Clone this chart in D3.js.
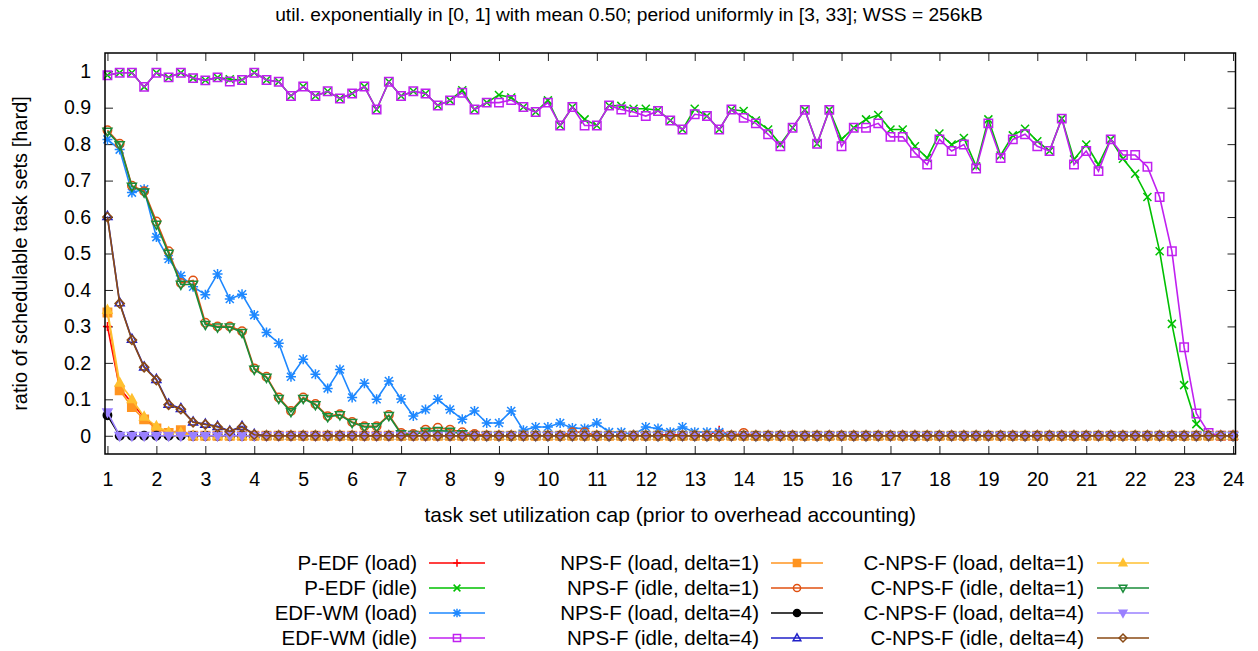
<!DOCTYPE html>
<html>
<head>
<meta charset="utf-8">
<script src="https://cdn.jsdelivr.net/npm/d3@7"></script>
<style>
body { margin: 0; background: #fff; }
text { font-family: "Liberation Sans", Arial, sans-serif; fill: #000; }
</style>
</head>
<body>
<svg width="1258" height="651"></svg>
<script>
// x grid: task set utilization cap
var utilCap = [
  1, 1.25, 1.5, 1.75, 2, 2.25, 2.5, 2.75,
  3, 3.25, 3.5, 3.75, 4, 4.25, 4.5, 4.75,
  5, 5.25, 5.5, 5.75, 6, 6.25, 6.5, 6.75,
  7, 7.25, 7.5, 7.75, 8, 8.25, 8.5, 8.75,
  9, 9.25, 9.5, 9.75, 10, 10.25, 10.5, 10.75,
  11, 11.25, 11.5, 11.75, 12, 12.25, 12.5, 12.75,
  13, 13.25, 13.5, 13.75, 14, 14.25, 14.5, 14.75,
  15, 15.25, 15.5, 15.75, 16, 16.25, 16.5, 16.75,
  17, 17.25, 17.5, 17.75, 18, 18.25, 18.5, 18.75,
  19, 19.25, 19.5, 19.75, 20, 20.25, 20.5, 20.75,
  21, 21.25, 21.5, 21.75, 22, 22.25, 22.5, 22.75,
  23, 23.25, 23.5, 23.75, 24
];

var xTicks = [1,2,3,4,5,6,7,8,9,10,11,12,13,14,15,16,17,18,19,20,21,22,23,24];
var yTicks = [0, 0.1, 0.2, 0.3, 0.4, 0.5, 0.6, 0.7, 0.8, 0.9, 1];

var pEdfLoad = [
  .300, .130, .090, .050, .022, .010, .010, 0,
  0, 0, 0, 0, 0, 0, 0, 0,
  0, 0, 0, 0, 0, 0, 0, 0,
  0, 0, 0, 0, 0, 0, 0, 0,
  0, 0, 0, 0, 0, 0, 0, 0,
  0, 0, 0, 0, 0, 0, .005, 0,
  0, 0, .015, 0, 0, 0, 0, 0,
  0, 0, 0, 0, 0, 0, 0, 0,
  0, 0, 0, 0, 0, 0, 0, 0,
  0, 0, 0, 0, 0, 0, 0, 0,
  0, 0, 0, 0, 0, 0, 0, 0,
  0, 0, 0, 0, 0
];

var pEdfIdle = [
  .989, .996, .996, .957, .996, .983, .996, .981,
  .975, .983, .978, .976, .996, .976, .971, .932,
  .958, .932, .945, .925, .939, .958, .895, .971,
  .932, .945, .939, .906, .920, .948, .895, .914,
  .935, .928, .902, .888, .920, .851, .902, .868,
  .851, .906, .905, .897, .897, .893, .865, .840,
  .897, .877, .840, .895, .891, .865, .840, .800,
  .845, .894, .801, .894, .813, .845, .868, .880,
  .840, .840, .794, .762, .829, .799, .817, .739,
  .868, .769, .824, .842, .808, .781, .870, .758,
  .799, .744, .813, .760, .719, .655, .506, .307,
  .139, .032, 0, 0, 0
];

var edfWmLoad = [
  .813, .785, .667, .676, .545, .485, .439, .409,
  .387, .444, .375, .388, .331, .283, .254, .162,
  .210, .169, .130, .182, .105, .144, .100, .150,
  .101, .054, .072, .100, .072, .045, .068, .035,
  .035, .068, .015, .024, .024, .035, .021, .020,
  .035, .010, .010, .003, .024, .020, .010, .024,
  .010, .010, .010, 0, 0, 0, 0, 0,
  0, 0, 0, 0, 0, 0, 0, 0,
  0, 0, 0, 0, 0, 0, 0, 0,
  0, 0, 0, 0, 0, 0, 0, 0,
  0, 0, 0, 0, 0, 0, 0, 0,
  0, 0, 0, 0, 0
];

var edfWmIdle = [
  .989, .996, .996, .957, .996, .983, .996, .981,
  .975, .983, .972, .976, .996, .976, .971, .932,
  .958, .932, .945, .925, .939, .958, .895, .971,
  .932, .945, .939, .906, .920, .941, .895, .914,
  .914, .921, .902, .888, .914, .851, .902, .851,
  .851, .906, .895, .888, .877, .891, .865, .840,
  .882, .877, .840, .895, .872, .857, .827, .794,
  .845, .894, .801, .894, .794, .845, .845, .857,
  .820, .820, .776, .744, .813, .781, .799, .733,
  .857, .762, .813, .827, .794, .781, .870, .744,
  .781, .726, .813, .770, .770, .738, .655, .506,
  .243, .061, .008, 0, 0
];

var npsfLoadD1 = [
  .338, .125, .079, .045, .020, .008, .015, 0,
  0, 0, 0, 0, 0, 0, 0, 0,
  0, 0, 0, 0, 0, 0, 0, 0,
  0, 0, 0, 0, 0, 0, 0, 0,
  0, 0, 0, 0, 0, 0, 0, 0,
  0, 0, 0, 0, 0, 0, 0, 0,
  0, 0, 0, 0, 0, 0, 0, 0,
  0, 0, 0, 0, 0, 0, 0, 0,
  0, 0, 0, 0, 0, 0, 0, 0,
  0, 0, 0, 0, 0, 0, 0, 0,
  0, 0, 0, 0, 0, 0, 0, 0,
  0, 0, 0, 0, 0
];

var npsfIdleD1 = [
  .838, .801, .686, .671, .588, .506, .419, .426,
  .310, .300, .300, .287, .185, .162, .105, .068,
  .105, .087, .054, .059, .038, .026, .026, .057,
  .008, .005, .017, .022, .017, .010, .005, 0,
  0, 0, 0, 0, 0, 0, .010, .010,
  0, 0, 0, 0, 0, 0, 0, 0,
  0, 0, 0, 0, .008, 0, 0, 0,
  0, 0, 0, 0, 0, 0, 0, 0,
  0, 0, 0, 0, 0, 0, 0, 0,
  0, 0, 0, 0, 0, 0, 0, 0,
  0, 0, 0, 0, 0, 0, 0, 0,
  0, 0, 0, 0, 0
];

var npsfLoadD4 = [
  .056, 0, 0, 0, 0, 0, 0, 0,
  0, 0, 0, 0, 0, 0, 0, 0,
  0, 0, 0, 0, 0, 0, 0, 0,
  0, 0, 0, 0, 0, 0, 0, 0,
  0, 0, 0, 0, 0, 0, 0, 0,
  0, 0, 0, 0, 0, 0, 0, 0,
  0, 0, 0, 0, 0, 0, 0, 0,
  0, 0, 0, 0, 0, 0, 0, 0,
  0, 0, 0, 0, 0, 0, 0, 0,
  0, 0, 0, 0, 0, 0, 0, 0,
  0, 0, 0, 0, 0, 0, 0, 0,
  0, 0, 0, 0, 0
];

var npsfIdleD4 = [
  .602, .365, .265, .189, .155, .087, .075, .038,
  .032, .026, .013, .026, .004, 0, 0, 0,
  0, 0, 0, 0, 0, 0, 0, 0,
  0, 0, 0, 0, 0, 0, 0, 0,
  0, 0, 0, 0, 0, 0, 0, 0,
  0, 0, 0, 0, 0, 0, 0, 0,
  0, 0, 0, 0, 0, 0, 0, 0,
  0, 0, 0, 0, 0, 0, 0, 0,
  0, 0, 0, 0, 0, 0, 0, 0,
  0, 0, 0, 0, 0, 0, 0, 0,
  0, 0, 0, 0, 0, 0, 0, 0,
  0, 0, 0, 0, 0
];

var cnpsfLoadD1 = [
  .345, .145, .100, .052, .026, .010, .008, 0,
  0, 0, 0, 0, 0, 0, 0, 0,
  0, 0, 0, 0, 0, 0, 0, 0,
  0, 0, 0, 0, 0, 0, 0, 0,
  0, 0, 0, 0, 0, 0, 0, 0,
  0, 0, 0, 0, 0, 0, 0, 0,
  0, 0, 0, 0, 0, 0, 0, 0,
  0, 0, 0, 0, 0, 0, 0, 0,
  0, 0, 0, 0, 0, 0, 0, 0,
  0, 0, 0, 0, 0, 0, 0, 0,
  0, 0, 0, 0, 0, 0, 0, 0,
  0, 0, 0, 0, 0
];

var cnpsfIdleD1 = [
  .835, .798, .684, .668, .580, .500, .415, .415,
  .305, .298, .298, .283, .182, .160, .102, .066,
  .102, .085, .052, .057, .036, .024, .024, .055,
  .005, .003, .012, .014, .012, .005, 0, 0,
  0, 0, 0, 0, 0, 0, 0, 0,
  0, 0, 0, 0, 0, 0, 0, 0,
  0, 0, 0, 0, 0, 0, 0, 0,
  0, 0, 0, 0, 0, 0, 0, 0,
  0, 0, 0, 0, 0, 0, 0, 0,
  0, 0, 0, 0, 0, 0, 0, 0,
  0, 0, 0, 0, 0, 0, 0, 0,
  0, 0, 0, 0, 0
];

var cnpsfLoadD4 = [
  .065, 0, 0, 0, 0, 0, 0, 0,
  0, 0, 0, 0, 0, 0, 0, 0,
  0, 0, 0, 0, 0, 0, 0, 0,
  0, 0, 0, 0, 0, 0, 0, 0,
  0, 0, 0, 0, 0, 0, 0, 0,
  0, 0, 0, 0, 0, 0, 0, 0,
  0, 0, 0, 0, 0, 0, 0, 0,
  0, 0, 0, 0, 0, 0, 0, 0,
  0, 0, 0, 0, 0, 0, 0, 0,
  0, 0, 0, 0, 0, 0, 0, 0,
  0, 0, 0, 0, 0, 0, 0, 0,
  0, 0, 0, 0, 0
];

var cnpsfIdleD4 = [
  .600, .363, .263, .188, .153, .085, .073, .037,
  .031, .024, .012, .024, .003, 0, 0, 0,
  0, 0, 0, 0, 0, 0, 0, 0,
  0, 0, 0, 0, 0, 0, 0, 0,
  0, 0, 0, 0, 0, 0, 0, 0,
  0, 0, 0, 0, 0, 0, 0, 0,
  0, 0, 0, 0, 0, 0, 0, 0,
  0, 0, 0, 0, 0, 0, 0, 0,
  0, 0, 0, 0, 0, 0, 0, 0,
  0, 0, 0, 0, 0, 0, 0, 0,
  0, 0, 0, 0, 0, 0, 0, 0,
  0, 0, 0, 0, 0
];

var seriesNames = [
  "P-EDF (load)", "P-EDF (idle)", "EDF-WM (load)", "EDF-WM (idle)",
  "NPS-F (load, delta=1)", "NPS-F (idle, delta=1)", "NPS-F (load, delta=4)", "NPS-F (idle, delta=4)",
  "C-NPS-F (load, delta=1)", "C-NPS-F (idle, delta=1)", "C-NPS-F (load, delta=4)", "C-NPS-F (idle, delta=4)"
];
var seriesValues = [
  pEdfLoad, pEdfIdle, edfWmLoad, edfWmIdle,
  npsfLoadD1, npsfIdleD1, npsfLoadD4, npsfIdleD4,
  cnpsfLoadD1, cnpsfIdleD1, cnpsfLoadD4, cnpsfIdleD4
];

// gnuplot-ish styles
var colors = ["#ff0000", "#00c000", "#1e88ff", "#c020f0",
              "#ff9420", "#e05010", "#000000", "#2020c8",
              "#ffc030", "#1a8c3a", "#9a80ff", "#8a4a14"];
var markers = ["plus", "cross", "star", "square",
               "square", "circle", "circle", "triUp",
               "triUp", "triDown", "triDown", "diamond"];
var filled = [false, false, false, false, true, false, true, false, true, false, true, false];

var svg = d3.select("svg");
var plotLeft = 105, plotRight = 1235.5, plotTop = 53, plotBottom = 454;

var x = d3.scaleLinear().domain([0.95, 24.05]).range([plotLeft, plotRight]);
var y = d3.scaleLinear().domain([-0.05, 1.05]).range([plotBottom, plotTop]);

function markerPath(type, s) {
  switch (type) {
    case "plus": return "M" + (-s) + ",0H" + s + "M0," + (-s) + "V" + s;
    case "cross": return "M" + (-s) + "," + (-s) + "L" + s + "," + s + "M" + (-s) + "," + s + "L" + s + "," + (-s);
    case "star":
      var k = s * 0.8;
      return "M" + (-s) + ",0H" + s + "M0," + (-s) + "V" + s +
        "M" + (-k) + "," + (-k) + "L" + k + "," + k + "M" + (-k) + "," + k + "L" + k + "," + (-k);
    case "square": return "M" + (-s) + "," + (-s) + "H" + s + "V" + s + "H" + (-s) + "Z";
    case "circle": return "M" + s + ",0A" + s + "," + s + " 0 1,1 " + (-s) + ",0A" + s + "," + s + " 0 1,1 " + s + ",0Z";
    case "triUp": return "M0," + (-s * 1.1) + "L" + s + "," + (s * 0.7) + "L" + (-s) + "," + (s * 0.7) + "Z";
    case "triDown": return "M0," + (s * 1.1) + "L" + s + "," + (-s * 0.7) + "L" + (-s) + "," + (-s * 0.7) + "Z";
    case "diamond": return "M0," + (-s) + "L" + s + ",0L0," + s + "L" + (-s) + ",0Z";
  }
}
var markerSize = { plus: 4.5, cross: 4, star: 5, square: 4.2, circle: 4.2, triUp: 4.5, triDown: 4.5, diamond: 4.6 };

// axes: ticks inside, mirrored on top and right
svg.append("g")
  .attr("transform", "translate(0," + plotBottom + ")")
  .call(d3.axisBottom(x).tickValues(xTicks).tickSizeInner(-8).tickSizeOuter(0).tickPadding(18))
  .call(function (g) { g.select(".domain").remove(); });
svg.append("g")
  .attr("transform", "translate(0," + plotTop + ")")
  .call(d3.axisTop(x).tickValues(xTicks).tickSizeInner(-8).tickSizeOuter(0).tickFormat(""))
  .call(function (g) { g.select(".domain").remove(); });
svg.append("g")
  .attr("transform", "translate(" + plotLeft + ",0)")
  .call(d3.axisLeft(y).tickValues(yTicks).tickSizeInner(-8).tickSizeOuter(0).tickPadding(14).tickFormat(d3.format("~g")))
  .call(function (g) { g.select(".domain").remove(); });
svg.append("g")
  .attr("transform", "translate(" + plotRight + ",0)")
  .call(d3.axisRight(y).tickValues(yTicks).tickSizeInner(-8).tickSizeOuter(0).tickFormat(""))
  .call(function (g) { g.select(".domain").remove(); });

svg.selectAll(".tick line").attr("stroke", "#222").attr("stroke-width", 1);
svg.selectAll(".tick text").style("font-size", "19.5px").attr("fill", "#000")
  .style("font-family", "'Liberation Sans', Arial, sans-serif");

// series, drawn in order like gnuplot
var line = d3.line()
  .x(function (d) { return x(d[0]); })
  .y(function (d) { return y(d[1]); });

var plot = svg.append("g");
seriesValues.forEach(function (vals, si) {
  var pts = utilCap.map(function (c, i) { return [c, vals[i]]; });
  var g = plot.append("g");
  g.append("path")
    .datum(pts)
    .attr("d", line)
    .attr("fill", "none")
    .attr("stroke", colors[si])
    .attr("stroke-width", 1.6);
  g.selectAll("path.pt")
    .data(pts)
    .enter().append("path")
    .attr("class", "pt")
    .attr("transform", function (d) { return "translate(" + x(d[0]) + "," + y(d[1]) + ")"; })
    .attr("d", markerPath(markers[si], markerSize[markers[si]]))
    .attr("fill", filled[si] ? colors[si] : "none")
    .attr("stroke", colors[si])
    .attr("stroke-width", 1.5);
});

// border
svg.append("rect")
  .attr("x", plotLeft).attr("y", plotTop)
  .attr("width", plotRight - plotLeft).attr("height", plotBottom - plotTop)
  .attr("fill", "none").attr("stroke", "#000").attr("stroke-width", 1.5);

// title and axis labels
svg.append("text")
  .attr("x", 629).attr("y", 21)
  .attr("text-anchor", "middle")
  .style("font-size", "19.2px")
  .text("util. exponentially in [0, 1] with mean 0.50; period uniformly in [3, 33]; WSS = 256kB");

svg.append("text")
  .attr("x", (plotLeft + plotRight) / 2).attr("y", 522)
  .attr("text-anchor", "middle")
  .style("font-size", "21px")
  .text("task set utilization cap (prior to overhead accounting)");

svg.append("text")
  .attr("transform", "translate(27," + ((plotTop + plotBottom) / 2) + ") rotate(-90)")
  .attr("text-anchor", "middle")
  .style("font-size", "20px")
  .text("ratio of schedulable task sets [hard]");

// legend: 3 columns x 4 rows
var legendCols = [
  { textEnd: 417, x0: 429, x1: 485 },
  { textEnd: 759, x0: 771, x1: 823 },
  { textEnd: 1084, x0: 1097, x1: 1149 }
];
var legendRows = [563, 588, 613, 638];

var legend = svg.append("g");
seriesNames.forEach(function (name, si) {
  var col = legendCols[Math.floor(si / 4)];
  var ly = legendRows[si % 4];
  legend.append("text")
    .attr("x", col.textEnd).attr("y", ly).attr("dy", "0.35em")
    .attr("text-anchor", "end")
    .style("font-size", "20.5px")
    .text(name);
  legend.append("line")
    .attr("x1", col.x0).attr("x2", col.x1)
    .attr("y1", ly).attr("y2", ly)
    .attr("stroke", colors[si]).attr("stroke-width", 1.6);
  legend.append("path")
    .attr("transform", "translate(" + ((col.x0 + col.x1) / 2) + "," + ly + ")")
    .attr("d", markerPath(markers[si], markerSize[markers[si]] * 0.85))
    .attr("fill", filled[si] ? colors[si] : "none")
    .attr("stroke", colors[si])
    .attr("stroke-width", 1.5);
});
</script>
</body>
</html>
